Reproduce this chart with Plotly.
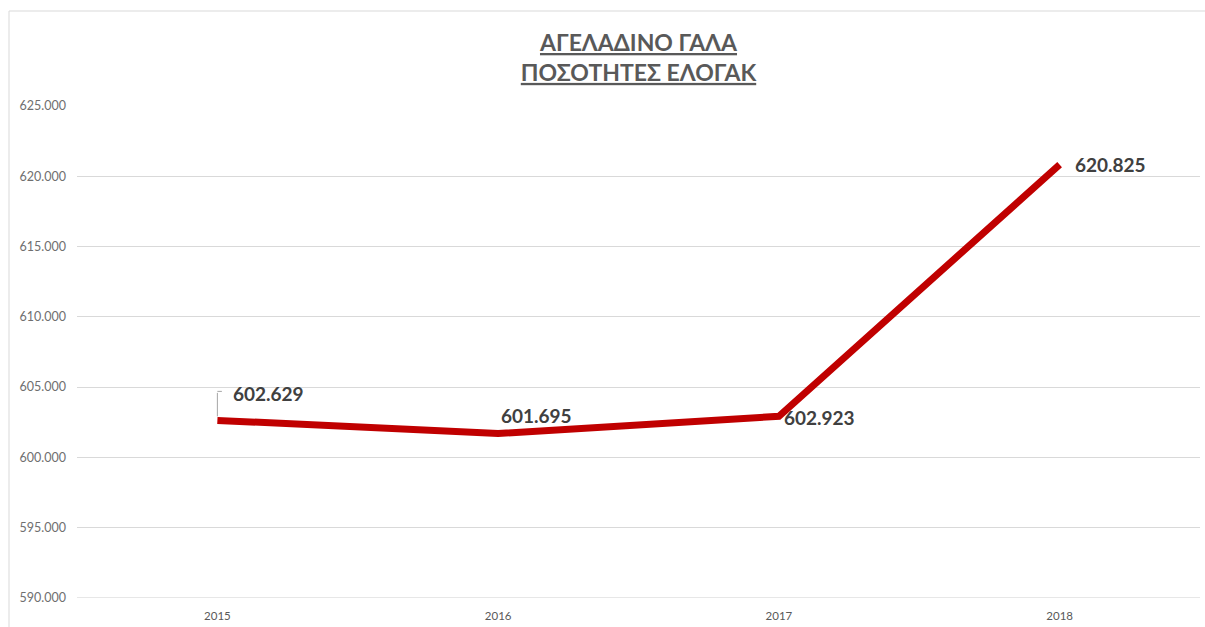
import plotly.graph_objects as go

years = ["2015", "2016", "2017", "2018"]
values = [602629, 601695, 602923, 620825]
label_xshift = [14, 1, 3, 13]
label_yshift = [27, 18, -1, 0]
y_min, y_max, y_step = 590000, 625000, 5000

W, H = 1205, 627
ML, MR, MT, MB = 77, 5, 106, 29
PW = W - ML - MR
PH = H - MT - MB
FONT = "Lato, Carlito, Calibri, sans-serif"

def fmt(v):
    return f"{v:,}".replace(",", ".")

fig = go.Figure()
fig.add_trace(go.Scatter(
    x=years, y=values, mode="lines",
    line=dict(color="#C00000", width=7),
    hoverinfo="skip", showlegend=False,
))

for i, v in enumerate(values):
    fig.add_annotation(
        x=i, y=v, xref="x", yref="y", text=fmt(v),
        xanchor="left", yanchor="middle",
        xshift=label_xshift[i], yshift=label_yshift[i],
        showarrow=False,
        font=dict(family=FONT, size=19, color="#404040", weight="bold"),
    )

# leader line for first label (vertical part + short horizontal part)
fig.add_annotation(
    x=0, y=values[0], xref="x", yref="y", text="",
    ax=0, ay=-29, showarrow=True, arrowhead=0, arrowwidth=1, arrowcolor="#a6a6a6",
    standoff=4,
)
fig.add_annotation(
    x=0, y=values[0], xref="x", yref="y", text="",
    yshift=29, ax=6, ay=0, showarrow=True, arrowhead=0, arrowwidth=1,
    arrowcolor="#a6a6a6",
)

# bottom gridline (at the axis minimum)
fig.add_shape(type="line", xref="paper", yref="y", x0=0, x1=1, y0=y_min, y1=y_min,
              line=dict(color="#d9d9d9", width=1), layer="below")

# chart frame
px2x = lambda p: (p - ML) / PW
px2y = lambda p: 1 - (p - MT) / PH
fig.add_shape(type="line", xref="paper", yref="paper", x0=px2x(9), x1=px2x(1210),
              y0=px2y(11), y1=px2y(11), line=dict(color="#d9d9d9", width=1))
fig.add_shape(type="line", xref="paper", yref="paper", x0=px2x(9), x1=px2x(9),
              y0=px2y(11), y1=px2y(640), line=dict(color="#d9d9d9", width=1))

fig.update_layout(
    width=W, height=H,
    margin=dict(l=ML, r=MR, t=MT, b=MB),
    paper_bgcolor="white", plot_bgcolor="white",
    separators=",.",
    title=dict(
        text="ΑΓΕΛΑΔΙΝΟ ΓΑΛΑ<br>ΠΟΣΟΤΗΤΕΣ ΕΛΟΓΑΚ",
        x=0.5, xanchor="center", xref="paper",
        y=1 - 51 / H, yanchor="middle",
        font=dict(family=FONT, size=23, color="#595959",
                  weight="bold", lineposition="under"),
    ),
    xaxis=dict(
        type="category", range=[-0.5, 3.5], showgrid=False, zeroline=False, showline=False,
        ticks="", tickfont=dict(family=FONT, size=11.5, color="#595959"),
        ticklabelstandoff=9,
    ),
    yaxis=dict(
        range=[y_min - 10, y_max], dtick=y_step, tick0=y_min, tickformat=",.0f",
        showgrid=True, gridcolor="#d9d9d9", gridwidth=1, zeroline=False, showline=False,
        ticks="", tickfont=dict(family=FONT, size=12.5, color="#6f6f6f"),
        ticklabelstandoff=10,
    ),
)

fig.write_html("out.html")
